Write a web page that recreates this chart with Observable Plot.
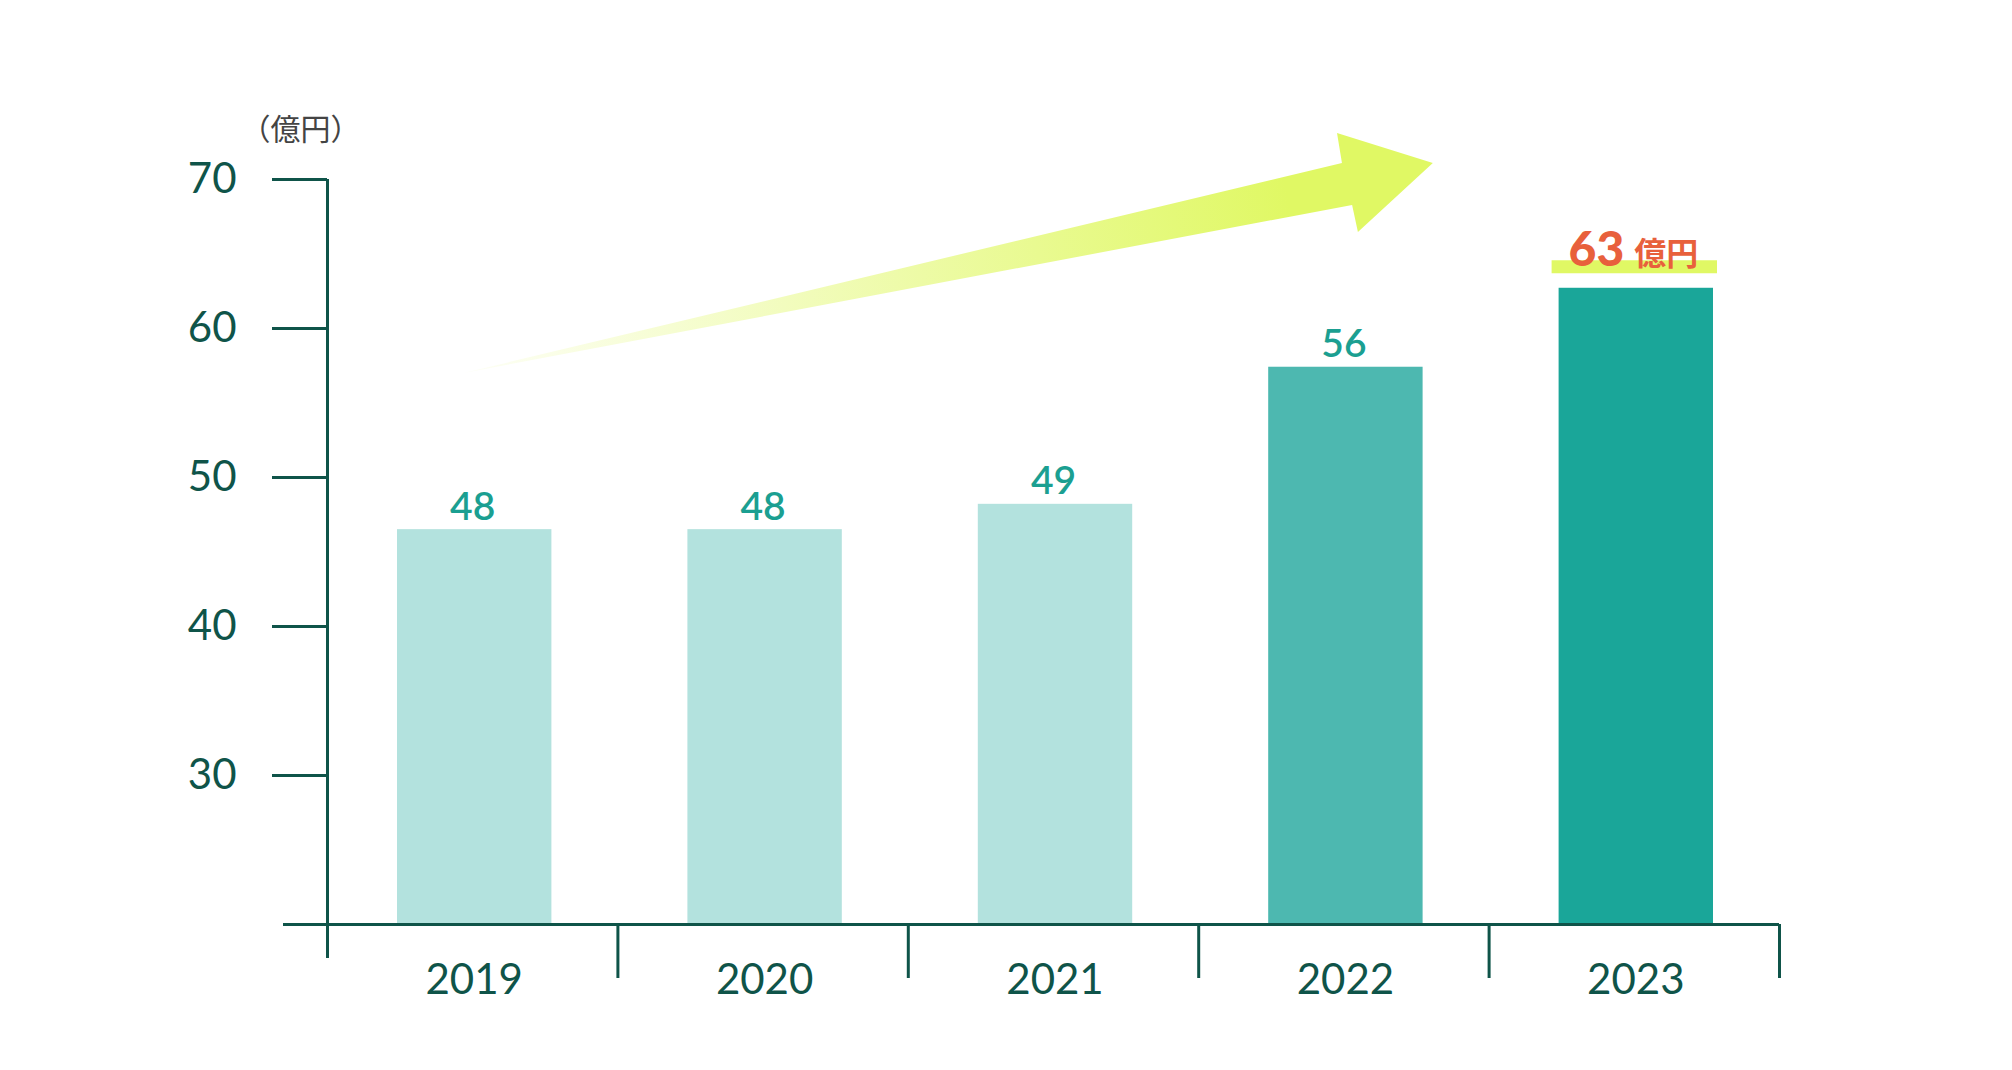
<!DOCTYPE html>
<html><head><meta charset="utf-8">
<script src="https://cdn.jsdelivr.net/npm/d3@7"></script>
<script src="https://cdn.jsdelivr.net/npm/@observablehq/plot@0.6"></script>
<style>
html,body{margin:0;padding:0;background:#fff;overflow:hidden}
g[aria-label="year labels"] text, g[aria-label="y tick labels"] text{letter-spacing:3px}
</style>
</head><body><div id="chart"></div>
<script>
// ---- data ----
const years = ["2019", "2020", "2021", "2022", "2023"];
const barValues = [46.5, 46.5, 48.2, 57.4, 62.7];      // bar heights as drawn
const valueLabels = ["48", "48", "49", "56", "63"];      // printed labels
const barColors = ["#b3e2de", "#b3e2de", "#b3e2de", "#4db8b0", "#1aa699"];
const yTicks = [30, 40, 50, 60, 70];
const unitLabel = "（億円）";
const unitSuffix = "億円";
// decorative arrow outline, in (category index, value) units
const arrowX = [0.47, 3.495, 3.478, 3.808, 3.55, 3.53];
const arrowY = [56.98, 71.07, 73.09, 71.07, 66.44, 68.26];

// ---- styles ----
const axisColor = "#0f5449";
const labelColor = "#1b9f91";
const accentColor = "#e8603c";
const limeColor = "#e0f864";

const bars = years.map((year, i) => ({i, year, value: barValues[i], label: valueLabels[i], color: barColors[i]}));
const last = bars[bars.length - 1];

function arrowMark(index, scales) {
  const pts = arrowX.map((x, k) => [scales.x(x), scales.y(arrowY[k])]);
  const g = d3.create("svg:g");
  const grad = g.append("defs").append("linearGradient")
    .attr("id", "arrowGrad").attr("gradientUnits", "userSpaceOnUse")
    .attr("x1", pts[0][0]).attr("y1", pts[0][1])
    .attr("x2", pts[3][0]).attr("y2", pts[3][1]);
  grad.append("stop").attr("offset", 0).attr("stop-color", limeColor).attr("stop-opacity", 0.05);
  grad.append("stop").attr("offset", 0.85).attr("stop-color", limeColor).attr("stop-opacity", 1);
  g.append("polygon").attr("points", pts.map(p => p.join(",")).join(" ")).attr("fill", "url(#arrowGrad)");
  return g.node();
}

const chart = Plot.plot({
  width: 2012,
  height: 1070,
  marginLeft: 327,
  marginRight: 233,
  marginTop: 179,
  marginBottom: 146,
  style: {fontFamily: "Lato, sans-serif", background: "#fff"},
  x: {domain: [0, 5], axis: null},
  y: {domain: [20, 70], axis: null},
  color: {type: "identity"},
  marks: [
    arrowMark,
    Plot.rect(bars, {x1: d => d.i, x2: d => d.i + 1, y1: 20, y2: "value", fill: "color", insetLeft: 70, insetRight: 66}),
    // y axis line and ticks
    Plot.ruleX([0], {stroke: axisColor, strokeWidth: 3, insetBottom: -34}),
    Plot.ruleY(yTicks, {x1: 0, x2: 0, insetLeft: -55, stroke: axisColor, strokeWidth: 3}),
    Plot.text(yTicks, {x: 0, y: d => d, text: d => String(d), textAnchor: "end", dx: -91, lineAnchor: "middle", fontSize: 42, fontWeight: 400, fill: axisColor, fontFamily: "Lato", ariaLabel: "y tick labels"}),
    // x axis line and dividers
    Plot.ruleY([20], {x1: 0, x2: 5, insetLeft: -44, stroke: axisColor, strokeWidth: 3}),
    Plot.ruleX([1, 2, 3, 4, 5], {y1: 20, y2: 20, insetBottom: -54, stroke: axisColor, strokeWidth: 3}),
    Plot.text(bars, {x: d => d.i + 0.5, y: 20, text: "year", dx: 1.5, dy: 69, lineAnchor: "bottom", fontSize: 42, fontWeight: 400, fill: axisColor, fontFamily: "Lato", ariaLabel: "year labels"}),
    // unit label
    Plot.text([unitLabel], {x: 0, y: 70, text: d => d, dx: -27, dy: -49, lineAnchor: "middle", fontSize: 30, fill: "#444", fontFamily: "Noto Sans CJK JP"}),
    // value labels
    Plot.text(bars.slice(0, 4), {x: d => d.i + 0.5, y: "value", text: "label", dy: -10, lineAnchor: "bottom", fontSize: 39, fontWeight: 600, fill: labelColor, fontFamily: "Lato"}),
    // highlighted final label
    Plot.ruleY([last], {x1: 4, x2: 5, y: "value", insetLeft: 63, insetRight: 62, dy: -21.5, strokeWidth: 13, stroke: limeColor}),
    Plot.text([last], {x: d => d.i + 0.5, y: "value", text: "label", textAnchor: "end", dx: -10, dy: -22, lineAnchor: "bottom", fontSize: 48, fontWeight: 900, fill: accentColor, fontFamily: "Lato"}),
    Plot.text([last], {x: d => d.i + 0.5, y: "value", text: () => unitSuffix, textAnchor: "start", dx: 0, dy: -23, lineAnchor: "bottom", fontSize: 32, fontWeight: 700, fill: accentColor, fontFamily: "Noto Sans CJK JP"})
  ]
});
document.getElementById("chart").appendChild(chart);
</script>
</body></html>
